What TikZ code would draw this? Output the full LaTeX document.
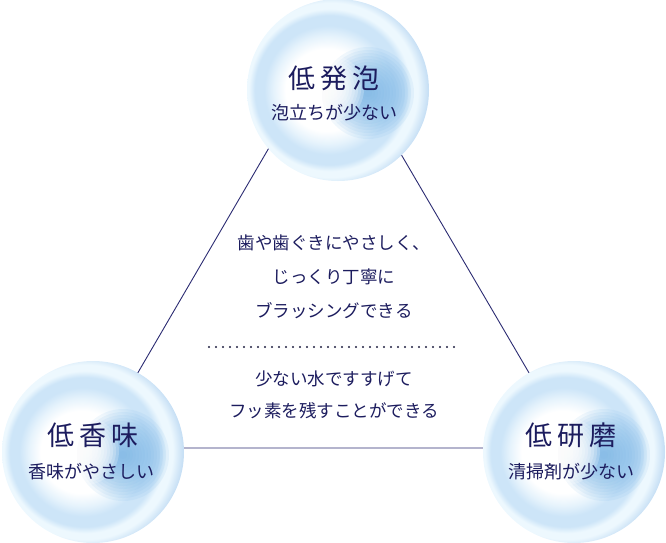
\documentclass[tikz,border=0pt]{standalone}
\usepackage{fontspec}
\setmainfont{Noto Sans CJK JP}
\definecolor{navy}{HTML}{1C1C5E}
\definecolor{linec}{HTML}{2B2B72}
\definecolor{dotc}{HTML}{202040}
\definecolor{cout}{HTML}{C8E0F5}
\definecolor{cring}{HTML}{EDF8FE}
\definecolor{cmid}{HTML}{CDE5F8}
\definecolor{cpale}{HTML}{E6F3FC}
\definecolor{cblue}{HTML}{72B2E6}
\pgfdeclareradialshading{discshade}{\pgfpoint{-4bp}{0bp}}{color(0bp)=(white); color(11.3bp)=(white); color(14.8bp)=(cpale); color(17.7bp)=(cmid); color(20.5bp)=(cmid); color(22.3bp)=(cring); color(24bp)=(cring); color(26.5bp)=(cout); color(33.2bp)=(cout); color(35.4bp)=(white); color(50bp)=(white)}
\tikzset{
  disc/.style={circle, minimum size=182pt, inner sep=0pt, shading=discshade},
  title/.style={text=navy, font=\fontsize{27}{30}\selectfont, inner sep=0pt},
  sub/.style={text=navy, font=\fontsize{18}{20}\selectfont, inner sep=0pt},
  body/.style={text=navy, font=\fontsize{17.5}{20}\selectfont, inner sep=0pt},
  tri/.style={draw=linec, line width=0.9pt},
  dotline/.style={draw=dotc, line width=2.4pt, line cap=round, dash pattern=on 0pt off 7pt},
}
\begin{document}
\begin{tikzpicture}[x=1pt,y=-1pt]
\useasboundingbox (0,0) rectangle (666,542);
\coordinate (A) at (333,38);
\coordinate (B) at (94,448);
\coordinate (C) at (573,448);
\draw[tri] (A) -- (B) -- (C) -- cycle;
\node[disc] (ctop) at (338,90) {};
\node[disc] (cleft) at (93,452) {};
\node[disc] (cright) at (574,452) {};
\foreach \n in {ctop,cleft,cright}{
  \foreach \r in {46,43,...,4}
    \fill[cblue, fill opacity=0.1] ([xshift=30pt,yshift=-3pt]\n.center) circle (\r pt);
  \foreach \r in {34,31,...,4}
    \fill[white, fill opacity=0.22] ([xshift=-8pt,yshift=1pt]\n.center) circle (\r pt);
}
\node[title] (t1) at (334,78) {低\kern5pt発\kern5pt泡};
\node[sub] (s1) at (334,113) {泡立ちが少ない};
\node[title] (t2) at (93,435) {低\kern5pt香\kern5pt味};
\node[sub] (s2) at (91,472) {香味がやさしい};
\node[title] (t3) at (571,435) {低\kern5pt研\kern5pt磨};
\node[sub] (s3) at (571,472) {清掃剤が少ない};
\node[body] (l1) at (334,243) {歯や歯ぐきにやさしく、};
\node[body] (l2) at (334,277) {じっくり丁寧に};
\node[body] (l3) at (334,311) {ブラッシングできる};
\coordinate (d1) at (209,347);
\coordinate (d2) at (460,347);
\draw[dotline] (d1) -- (d2);
\node[body] (l4) at (334,379) {少ない水ですすげて};
\node[body] (l5) at (334,411) {フッ素を残すことができる};
\end{tikzpicture}
\end{document}
